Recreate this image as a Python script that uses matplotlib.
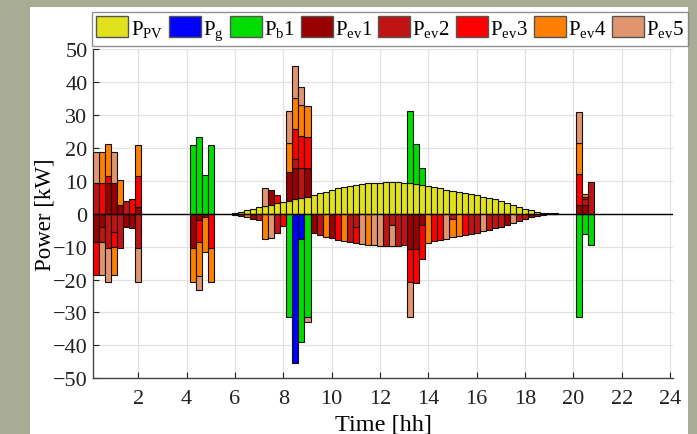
import numpy as np
import matplotlib
matplotlib.use('Agg')
import matplotlib.pyplot as plt
from matplotlib.patches import Rectangle

plt.rcParams['font.family'] = 'Liberation Serif'
plt.rcParams['mathtext.fontset'] = 'custom'
plt.rcParams['mathtext.rm'] = 'Liberation Serif'
plt.rcParams['mathtext.it'] = 'Liberation Serif:italic'

# 15-minute time steps (hours)
time_steps = np.arange(1, 97) * 0.25

# power per series, keyed by time step [kW]; missing steps are zero
p_pv = {6.0: 0.3, 6.25: 0.6, 6.5: 1.0, 6.75: 1.4, 7.0: 1.9, 7.25: 2.3, 7.5: 2.7,
        7.75: 3.1, 8.0: 3.5, 8.25: 3.9, 8.5: 4.4, 8.75: 4.8, 9.0: 5.2, 9.25: 5.7,
        9.5: 6.2, 9.75: 6.7, 10.0: 7.2, 10.25: 7.7, 10.5: 8.1, 10.75: 8.5, 11.0: 8.8,
        11.25: 9.0, 11.5: 9.2, 11.75: 9.35, 12.0: 9.45, 12.25: 9.5, 12.5: 9.55,
        12.75: 9.5, 13.0: 9.4, 13.25: 9.3, 13.5: 9.1, 13.75: 8.8, 14.0: 8.5,
        14.25: 8.1, 14.5: 7.7, 14.75: 7.3, 15.0: 6.9, 15.25: 6.5, 15.5: 6.2,
        15.75: 5.9, 16.0: 5.6, 16.25: 5.2, 16.5: 4.7, 16.75: 4.3, 17.0: 3.8,
        17.25: 3.2, 17.5: 2.6, 17.75: 2.1, 18.0: 1.5, 18.25: 1.0, 18.5: 0.6,
        18.75: 0.3, 19.0: 0.15, 19.25: 0.05}
p_g = {8.5: -45.3, 8.75: -7.7}
p_b1 = {4.25: 20.7, 4.5: 23.2, 4.75: 11.6, 5.0: 20.8, 8.25: -31.5, 8.75: -31.2,
        9.0: -31.3, 13.25: 21.9, 13.5: 11.9, 13.75: 5.0, 20.25: -31.4, 20.5: -6.2,
        20.75: -9.6}
p_ev1 = {0.25: -8.7, 0.5: -4.0, 0.75: 9.2, 1.0: 9.2, 1.25: 2.5, 1.5: -4.0, 1.75: -4.5,
         2.0: 2.0, 4.25: -10.5, 4.5: -2.0, 4.75: -1.0, 6.0: -0.3, 6.75: -1.5, 7.5: 4.6,
         8.25: 8.6, 8.5: 9.6, 9.0: 8.6, 9.25: -6.0, 10.0: -7.5, 13.25: -10.6,
         13.5: -10.6, 13.75: -3.3, 17.25: -3.4, 18.25: -1.1, 20.25: 2.6, 20.5: 2.6}
p_ev2 = {0.25: 9.2, 0.5: -4.5, 0.75: -10.5, 1.0: -5.5, 1.25: -10.3, 1.5: 3.7, 2.0: -10.4,
         6.25: -0.7, 7.0: -2.0, 7.75: -5.8, 8.5: 2.5, 8.75: 9.1, 9.5: -6.5, 10.75: -8.7,
         11.0: -4.0, 12.25: -9.7, 12.5: -3.4, 12.75: -9.7, 13.0: -9.6, 15.0: -1.5,
         15.75: -6.1, 16.0: -5.8, 16.5: -5.0, 16.75: -4.5, 17.0: -4.0, 17.75: -2.3,
         18.0: -1.6, 18.5: -0.6, 18.75: -0.3, 19.0: -0.15, 19.25: -0.05, 20.5: 1.8,
         20.75: 9.6}
p_ev3 = {0.25: -9.9, 0.5: 9.2, 0.75: 2.2, 1.0: -4.5, 1.75: 4.4, 2.0: 9.3, 4.5: -6.6,
         5.0: -10.4, 7.75: 2.7, 8.0: -3.6, 8.5: 9.3, 8.75: 9.6, 9.0: 9.4, 10.25: -7.9,
         11.0: -5.0, 13.25: -10.3, 13.5: -10.4, 13.75: -10.5, 14.25: -8.4, 14.5: -8.0,
         15.5: -6.4, 20.25: 9.4, 20.5: 0.8}
p_ev4 = {0.5: 9.6, 0.75: 9.6, 1.0: -8.7, 1.25: 7.6, 2.0: 9.6, 4.25: -10.3, 4.5: -10.4,
         4.75: -10.6, 5.0: -10.4, 6.5: -1.1, 7.25: -7.8, 8.25: 9.1, 8.5: 9.4, 8.75: 9.6,
         9.0: 9.5, 9.75: -7.0, 10.5: -8.3, 11.5: -9.4, 14.0: -8.8, 15.0: -5.7,
         15.25: -6.8, 20.25: 9.4, 20.5: 0.8}
p_ev5 = {0.25: 9.6, 0.5: -10.1, 0.75: -10.4, 1.0: 9.6, 2.0: -10.4, 4.5: -4.2, 7.25: 5.5,
         7.5: -7.4, 8.25: 9.6, 8.5: 9.6, 8.75: 5.4, 9.0: -1.7, 11.25: -9.2, 11.75: -9.6,
         12.0: -9.7, 12.5: -6.4, 13.25: -10.4, 14.75: -7.6, 16.25: -5.4, 17.5: -2.8,
         20.25: 9.6}

labels = [r'P$_{\rm PV}$', r'P$_{\rm g}$', r'P$_{\rm b}$1', r'P$_{\rm ev}$1',
          r'P$_{\rm ev}$2', r'P$_{\rm ev}$3', r'P$_{\rm ev}$4', r'P$_{\rm ev}$5']
series = [p_pv, p_g, p_b1, p_ev1, p_ev2, p_ev3, p_ev4, p_ev5]
colors = ['#e2e21c', '#0000ff', '#00dc00', '#990000', '#c01414', '#ff0000',
          '#ff8000', '#e0956e']


def to_array(d):
    return np.array([d.get(round(t, 2), 0.0) for t in time_steps])


fig = plt.figure(figsize=(6.97, 4.35), dpi=100, facecolor='#a8ac94')
fig.add_artist(Rectangle((30 / 697, 0), 658 / 697, 427 / 435, transform=fig.transFigure,
                         facecolor='white', edgecolor='none', zorder=-10))
ax = fig.add_axes([93 / 697, 55.7 / 435, 580 / 697, 329.3 / 435])
ax.set_facecolor('white')

pos_base = np.zeros(len(time_steps))
neg_base = np.zeros(len(time_steps))
handles = []
for vals_d, col, lab in zip(series, colors, labels):
    vals = to_array(vals_d)
    bottom = np.where(vals >= 0, pos_base, neg_base)
    mask = vals != 0
    ax.bar(time_steps[mask], vals[mask], width=0.25, bottom=bottom[mask], color=col,
           edgecolor='#111111', linewidth=0.8, zorder=3)
    handles.append(Rectangle((0, 0), 1, 1, facecolor=col, edgecolor='#555555', linewidth=1))
    pos_base += np.where(vals > 0, vals, 0)
    neg_base += np.where(vals < 0, vals, 0)

ax.axhline(0, color='k', linewidth=1.0, zorder=4)

ax.set_xlim(0.125, 24.125)
ax.set_ylim(-50, 50)
ax.set_xticks(np.arange(2, 25, 2))
ax.set_yticks(np.arange(-50, 51, 10))
ax.grid(True, color='#e2e2e2', linewidth=0.9, zorder=0)
ax.set_axisbelow(True)
for s in ['top', 'right']:
    ax.spines[s].set_visible(False)
for s in ['left', 'bottom']:
    ax.spines[s].set_color('#444444')
    ax.spines[s].set_linewidth(1.0)
ax.tick_params(direction='in', length=4, labelsize=16, colors='#222222')
ax.tick_params(axis='x', pad=8)
ax.tick_params(axis='y', pad=4)
ax.set_xlabel('Time [hh]', fontsize=17.5, labelpad=4)
ax.set_ylabel('Power [kW]', fontsize=16.5, labelpad=-2)

leg = fig.legend(handles, labels, loc='upper left', bbox_to_anchor=(92 / 697, 1 - 13 / 435),
                 ncol=8, fontsize=15, handlelength=1.55, handleheight=1.15,
                 handletextpad=0.1, columnspacing=0.28, borderpad=0.2, borderaxespad=0,
                 frameon=True, fancybox=False, edgecolor='#777777')
leg.get_frame().set_linewidth(1.0)

fig.savefig('out.png', dpi=100, facecolor=fig.get_facecolor())
